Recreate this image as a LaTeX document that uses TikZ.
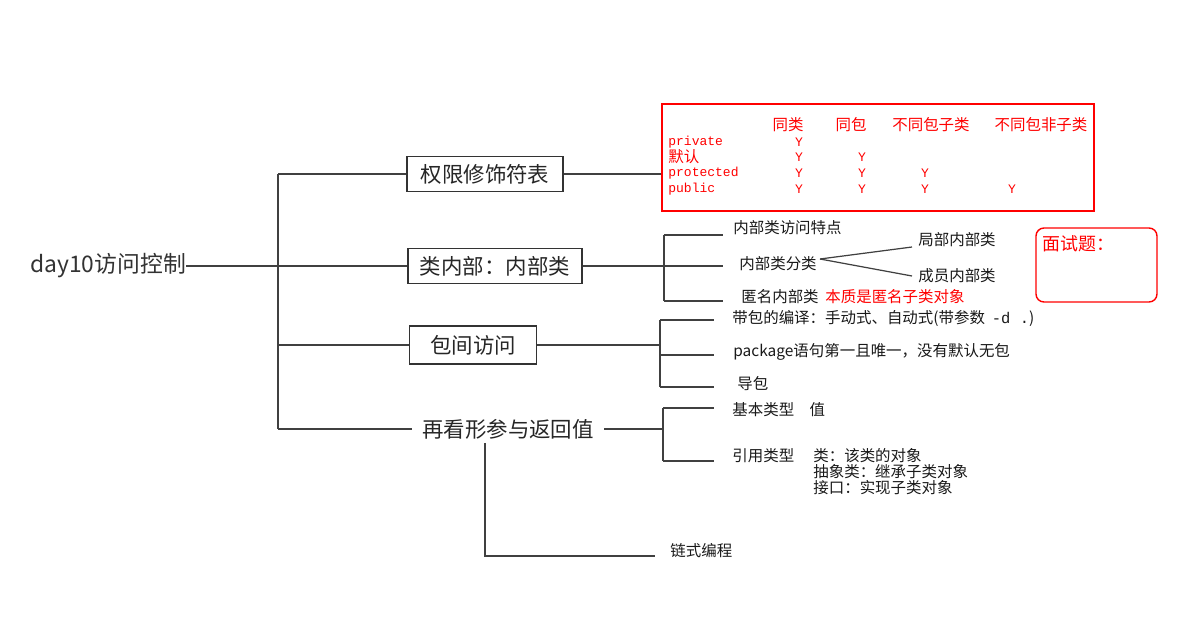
\documentclass[tikz,border=0pt]{standalone}
\usepackage{fontspec}
\setmainfont{Noto Sans CJK SC}
\newfontfamily\cjk{Noto Sans CJK SC}
\newfontfamily\tmono{Liberation Mono}
\usepackage{tikz}
\usetikzlibrary{positioning}
\tikzset{
  tbox/.style={draw=black!80, line width=0.8pt, font=\fontsize{12.2}{14}\selectfont, text=black!85, inner sep=0pt, minimum height=7mm},
  leaf/.style={anchor=west, inner sep=0pt, font=\fontsize{8.8}{9.2}\selectfont, text=black!90},
  tcell/.style={text=red, inner sep=0pt, font=\fontsize{8.8}{8.8}\selectfont},
  tlab/.style={text=red, inner sep=0pt, anchor=west, font=\tmono\fontsize{7.4}{7.4}\selectfont},
  cline/.style={draw=black!75, line width=0.7pt}
}

\begin{document}
\begin{tikzpicture}[x=0.2mm, y={(0,-0.2mm)}]
\useasboundingbox (0,0) rectangle (1192,640);

% root and trunk
\node[anchor=west, inner sep=0pt, font=\fontsize{13}{15}\selectfont, text=black!80] (root) at (30,266) {day10访问控制};
\coordinate (t1) at (278,174);
\coordinate (t2) at (278,266);
\coordinate (t3) at (278,345);
\coordinate (t4) at (278,429);
\draw[cline] (t1) -- (t4);
\draw[cline] (root) -- (t2);

% main branches
\node[tbox, minimum width=31.2mm] (b1) at (485,174) {权限修饰符表};
\node[tbox, minimum width=34.8mm] (b2) at (495,266) {类内部：内部类};
\node[tbox, minimum width=25.4mm, minimum height=7.6mm] (b3) at (473,345) {包间访问};
\node[inner xsep=2mm, inner ysep=2pt, font=\fontsize{12.2}{14}\selectfont, text=black!85] (b4) at (508,429) {再看形参与返回值};
\draw[cline] (t1) -- (b1);
\draw[cline] (t2) -- (b2);
\draw[cline] (t3) -- (b3);
\draw[cline] (t4) -- (b4);

% access table
\node[draw=red, line width=0.9pt, minimum width=86.4mm, minimum height=21.4mm, inner sep=0pt] (tab) at (878,157.5) {};
\draw[cline] (b1.east) -- (b1.east -| tab.west);
\foreach \h/\hx [count=\i] in {同类/788, 同包/851, 不同包子类/931, 不同包非子类/1041}
  \node[tcell] (h\i) at (\hx,125) {\h};
\foreach \lab/\ry [count=\ri] in {private/142, {\cjk\fontsize{8.8}{8.8}\selectfont 默认}/157, protected/173, public/189} {
  \node[tlab] (r\ri) at (668,\ry) {\lab};
  \foreach \cx [count=\ci] in {799,862,925,1012} {
    \ifnum\ci>\ri\else \node[tlab, anchor=center] (y\ri\ci) at (\cx,\ry) {Y};\fi
  }
}

% inner classes
\coordinate (i1) at (664,235);
\coordinate (i2) at (664,266);
\coordinate (i3) at (664,301);
\coordinate (iend) at (723,0);
\draw[cline] (i1) -- (i3);
\draw[cline] (b2) -- (i2);
\foreach \k in {1,2,3} \draw[cline] (i\k) -- (i\k -| iend);
\node[leaf] (ifeat) at (733,228) {内部类访问特点};
\node[leaf] (icat) at (739,264) {内部类分类};
\node[leaf] (ianon) at (741,297) {匿名内部类};
\node[leaf, text=red] (iess) at (825,297) {本质是匿名子类对象};
\node[leaf] (iloc) at (918,240) {局部内部类};
\node[leaf] (imem) at (918,276) {成员内部类};
\draw[cline] ([xshift=0.6mm, yshift=1mm]icat.east) -- ([xshift=-1.2mm, yshift=-1.4mm]iloc.west);
\draw[cline] ([xshift=0.6mm, yshift=1mm]icat.east) -- ([xshift=-1.2mm]imem.west);

% interview box
\node[draw=red, line width=0.8pt, rounded corners=1.6mm, minimum width=24.2mm, minimum height=14.8mm, inner sep=0pt] (intv) at (1096.5,265) {};
\node[anchor=west, inner sep=0pt, text=red, font=\fontsize{10.2}{12}\selectfont] (intvt) at (1042,244) {面试题：};

% packages
\coordinate (pj) at (660,345);
\coordinate (p1) at (660,320);
\coordinate (p2) at (660,355);
\coordinate (p3) at (660,387);
\coordinate (pend) at (714,0);
\draw[cline] (p1) -- (p3);
\draw[cline] (b3) -- (pj);
\foreach \k in {1,2,3} \draw[cline] (p\k) -- (p\k -| pend);
\node[leaf] (pcomp) at (732,318) {带包的编译：手动式、自动式(带参数~~{\tmono -d .})};
\node[leaf] (pstmt) at (733,352) {package语句第一且唯一，没有默认无包};
\node[leaf] (pimp) at (737,384) {导包};

% parameters and return values
\coordinate (rj) at (663,429);
\coordinate (q1) at (663,408);
\coordinate (q2) at (663,461);
\coordinate (qend) at (714,0);
\draw[cline] (q1) -- (q2);
\draw[cline] (b4) -- (rj);
\foreach \k in {1,2} \draw[cline] (q\k) -- (q\k -| qend);
\node[leaf] (rbas) at (732,410) {基本类型\quad 值};
\node[leaf] (rref) at (732,456) {引用类型};
\node[leaf, anchor=north west, align=left] (rdet) at (813,448) {类：该类的对象\\抽象类：继承子类对象\\接口：实现子类对象};

% chained calls
\node[leaf] (chain) at (670,551) {链式编程};
\coordinate (rc) at (485,556);
\draw[cline] (b4.south -| rc) -- (rc) -- ([xshift=-3mm]chain.west |- rc);
\end{tikzpicture}
\end{document}
